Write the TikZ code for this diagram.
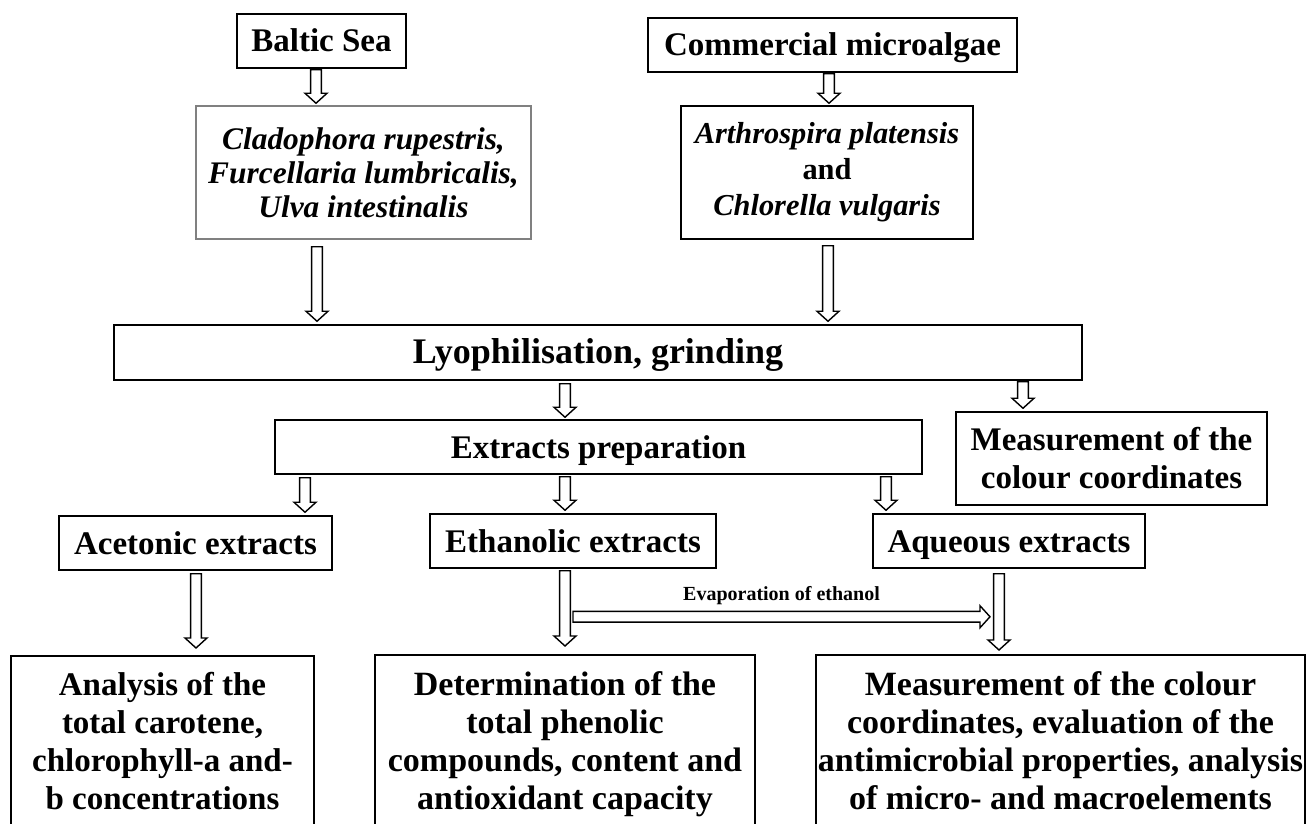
\documentclass[tikz,border=0pt]{standalone}
\usepackage{fontspec}
\setmainfont{Liberation Serif}
\usetikzlibrary{calc}

\tikzset{
  caja/.style={draw, line width=0.75pt, align=center, inner sep=0pt,
    font=\bfseries\fontsize{16.5}{19}\selectfont},
  linea/.style={caja, text height=11pt, text depth=0pt},
  cajagris/.style={caja, draw=black!50},
  abajo/.style={caja, anchor=north, inner xsep=0pt, inner ysep=8.5pt},
  flecha/.style={draw, line width=0.7pt, fill=white, line join=miter},
  etiq/.style={font=\bfseries\fontsize{10}{11}\selectfont, inner sep=1pt},
}

% flecha hueca de #1 a #2
\newcommand{\flechahueca}[2]{%
  \path ($(#2)!5pt!(#1)$) coordinate (hb);
  \draw[flecha] ($(#1)!2.7pt!90:(#2)$) -- ($(hb)!2.7pt!90:(#2)$)
    -- ($(hb)!5.5pt!90:(#2)$) -- (#2) -- ($(hb)!5.5pt!-90:(#2)$)
    -- ($(hb)!2.7pt!-90:(#2)$) -- ($(#1)!2.7pt!-90:(#2)$) -- cycle;}

\begin{document}
\begin{tikzpicture}[x=0.5pt, y=-0.5pt]
    \useasboundingbox (0,0) rectangle (1312,824);
    % Origen de las muestras
    \node[linea, minimum width=84.5pt, minimum height=27pt] (baltic) at (321.5,41) {Baltic Sea};
    \node[linea, minimum width=184.5pt, minimum height=27pt] (comm) at (832.5,45) {Commercial microalgae};
    \node[cajagris, minimum width=167.5pt, minimum height=66.5pt, font=\bfseries\itshape\fontsize{15.7}{17}\selectfont] (clad) at (363.5,172.5)
        {Cladophora rupestris,\\ Furcellaria lumbricalis,\\ Ulva intestinalis};
    \node[caja, minimum width=146pt, minimum height=66.5pt, font=\bfseries\fontsize{15.2}{18}\selectfont] (arth) at (827,172.5)
        {\textit{Arthrospira platensis}\\ and\\ \textit{Chlorella vulgaris}};
    % Tratamiento
    \node[linea, minimum width=484pt, minimum height=27.5pt, font=\bfseries\fontsize{18}{19}\selectfont] (lyo) at (598,352.5) {Lyophilisation, grinding};
    \node[linea, minimum width=323.5pt, minimum height=27pt] (ext) at (598.5,447) {Extracts preparation};
    \node[caja, minimum width=155.5pt, minimum height=46.5pt] (meas) at (1111.5,458.5) {Measurement of the\\ colour coordinates};
    % Extractos
    \node[linea, minimum width=136.5pt, minimum height=27pt] (acet) at (195.5,543) {Acetonic extracts};
    \node[linea, minimum width=143pt, minimum height=27pt] (etha) at (573,541) {Ethanolic extracts};
    \node[linea, minimum width=136pt, minimum height=27pt] (aque) at (1009,541) {Aqueous extracts};
    % Analisis
    \node[abajo, minimum width=151.5pt] (anal) at (162.5,655)
        {Analysis of the\\ total carotene,\\ chlorophyll-a and-\\ b concentrations\\[20pt]\mbox{}};
    \node[abajo, minimum width=190pt, font=\bfseries\fontsize{17}{19}\selectfont] (det) at (565,654)
        {Determination of the\\ total phenolic\\ compounds, content and\\ antioxidant capacity\\[20pt]\mbox{}};
    \node[abajo, minimum width=244.5pt, font=\bfseries\fontsize{17}{19}\selectfont] (meas2) at (1060.5,654)
        {Measurement of the colour\\ coordinates, evaluation of the\\ antimicrobial properties, analysis\\ of micro- and macroelements\\[20pt]\mbox{}};

    % Puntos de las flechas
    \coordinate (f1) at ($(baltic.south)+(-5.5,1)$);
    \coordinate (f2) at ($(comm.south)+(-3.5,1)$);
    \coordinate (f3) at ($(clad.south)+(-46.5,7)$);
    \coordinate (f4) at ($(arth.south)+(1,6)$);
    \coordinate (f5) at ($(lyo.south)+(-33,3)$);
    \coordinate (f6) at ($(lyo.south)+(425,1)$);
    \coordinate (f7) at ($(ext.south)+(-293.5,3)$);
    \coordinate (f8) at ($(ext.south)+(-33.5,2)$);
    \coordinate (f9) at ($(ext.south)+(287.5,2)$);
    \coordinate (f10) at ($(acet.south)+(0.5,3)$);
    \coordinate (f11) at ($(etha.south)+(-8,2)$);
    \coordinate (f12) at ($(aque.south)+(-10,5)$);
    \coordinate (h1) at ($(f11)+(8,46)$);
    \coordinate (h2) at ($(h1 -| f12)+(-9,0)$);

    % Flechas
    \flechahueca{f1}{$(f1 |- clad.north)+(0,-2)$}
    \flechahueca{f2}{$(f2 |- arth.north)+(0,-2)$}
    \flechahueca{f3}{$(f3 |- lyo.north)+(0,-3)$}
    \flechahueca{f4}{$(f4 |- lyo.north)+(0,-3)$}
    \flechahueca{f5}{$(f5 |- ext.north)+(0,-2)$}
    \flechahueca{f6}{$(f6 |- meas.north)+(0,-3)$}
    \flechahueca{f7}{$(f7 |- acet.north)+(0,-3)$}
    \flechahueca{f8}{$(f8 |- etha.north)+(0,-3)$}
    \flechahueca{f9}{$(f9 |- aque.north)+(0,-3)$}
    \flechahueca{f10}{$(f10 |- anal.north)+(0,-7)$}
    \flechahueca{f11}{$(f11 |- det.north)+(0,-8)$}
    \flechahueca{f12}{$(f12 |- meas2.north)+(0,-4)$}
    \flechahueca{h1}{h2}
    \node[etiq] (evap) at ($(h1)!0.5!(h2)+(0,-21)$) {Evaporation of ethanol};
\end{tikzpicture}
\end{document}
